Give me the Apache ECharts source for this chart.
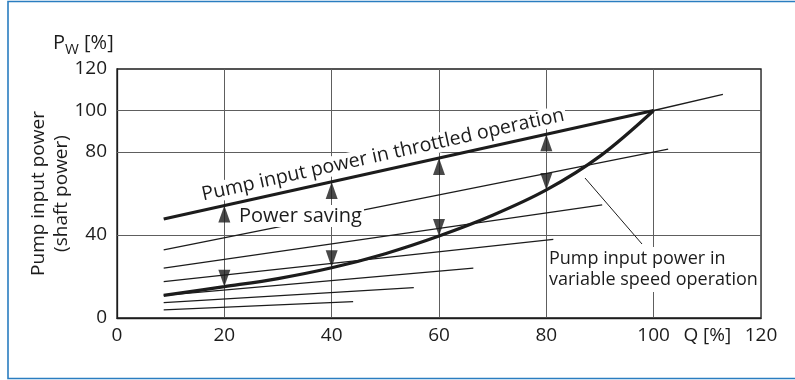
<!DOCTYPE html>
<html><head><meta charset="utf-8">
<script src="https://cdn.jsdelivr.net/npm/echarts@6/dist/echarts.min.js"></script>
<style>html,body{margin:0;padding:0;background:#fff}#c{width:795px;height:380px}</style>
</head><body><div id="c"></div>
<script>
// ---- data ----
const flowTicks = [0, 20, 40, 60, 80, 100, 110, 120];
const powerTicks = [0, 40, 80, 100, 120];
const powerGrid = [40, 80, 100];
const startQ = 8.7;
const throttledQ = [8.7, 100];
const throttledP = [47.7, 100];
const throttledExtQ = [100, 112.9];
const throttledExtP = [100, 107.8];
const variableQ = [8.7, 20, 30, 40, 50, 60, 70, 80, 90, 100];
const variableP = [10.9, 15.1, 19.0, 24.2, 31.0, 39.5, 49.5, 61.7, 78.0, 100];
const curveStartP = [32.8, 24.0, 17.5, 10.9, 7.4, 3.9];
const curveEndQ = [102.7, 90.4, 81.3, 66.4, 55.3, 44.0];
const curveEndP = [81.4, 54.5, 37.9, 24.0, 14.6, 7.9];
const arrowQ = [20, 40, 60, 80];
const arrowTopP = [54.2, 65.6, 77.1, 88.5];
const arrowBottomP = [15.1, 24.5, 39.5, 61.7];

const FONT = '"Open Sans", "Noto Sans", sans-serif';
const FS = 19;
const INK = '#1c1c1c';

const zip = (a, b) => a.map((v, i) => [v, b[i]]);

const series = [];
series.push({
  type: 'line', data: [], silent: true,
  markLine: {
    z: 1, silent: true, symbol: 'none', label: { show: false },
    lineStyle: { color: '#5e5e5e', width: 1, type: 'solid' },
    data: powerGrid.map(v => ({ yAxis: v }))
  }
});
curveStartP.forEach((p, i) => {
  series.push({
    type: 'line', z: 2, symbol: 'none', silent: true,
    lineStyle: { color: INK, width: 1.3 },
    data: [[startQ, p], [curveEndQ[i], curveEndP[i]]]
  });
});
series.push({
  type: 'line', z: 2, symbol: 'none', silent: true,
  lineStyle: { color: INK, width: 1.3 },
  data: zip(throttledExtQ, throttledExtP)
});
series.push({
  type: 'line', z: 3, symbol: 'none', silent: true,
  lineStyle: { color: INK, width: 3.2 },
  data: zip(throttledQ, throttledP)
});
series.push({
  type: 'line', z: 3, symbol: 'none', silent: true, smooth: 0.35,
  lineStyle: { color: INK, width: 3.2 },
  data: zip(variableQ, variableP)
});
series.push({
  type: 'scatter', z: 4, silent: true, symbol: 'triangle',
  symbolSize: [12, 17], symbolOffset: [0, '50%'],
  itemStyle: { color: INK },
  data: zip(arrowQ, arrowTopP)
});
series.push({
  type: 'scatter', z: 4, silent: true, symbol: 'triangle',
  symbolSize: [12, 17], symbolOffset: [0, '-50%'], symbolRotate: 180,
  itemStyle: { color: INK },
  data: zip(arrowQ, arrowBottomP)
});

const chart = echarts.init(document.getElementById('c'), null, { renderer: 'canvas' });
chart.setOption({
  animation: false,
  backgroundColor: '#fff',
  grid: { left: 117, top: 69, right: 34, bottom: 62, show: true, borderColor: INK, borderWidth: 1.3 },
  xAxis: {
    type: 'value', min: 0, max: 120, interval: 20,
    axisLine: { show: true, lineStyle: { color: INK, width: 1.3 } },
    axisTick: { show: false },
    splitLine: { show: true, lineStyle: { color: '#5e5e5e', width: 1 } },
    axisLabel: {
      customValues: flowTicks, margin: 8, color: INK, fontSize: FS, fontFamily: FONT,
      formatter: v => (v === 110 ? 'Q [%]' : String(v))
    }
  },
  yAxis: {
    type: 'value', min: 0, max: 120, interval: 20,
    name: 'Pump input power\n(shaft power)', nameLocation: 'middle', nameGap: 44,
    nameMoveOverlap: false,
    nameTextStyle: { color: INK, fontSize: FS, fontFamily: FONT, lineHeight: 23 },
    axisLine: { show: true, lineStyle: { color: INK, width: 1.3 } },
    axisTick: { show: false },
    splitLine: { show: false },
    axisLabel: { customValues: powerTicks, margin: 10, color: INK, fontSize: FS, fontFamily: FONT }
  },
  series: series,
  graphic: [
    { type: 'rect', z: 200, silent: true, shape: { x: 8, y: 1.5, width: 800, height: 377 },
      style: { fill: null, stroke: '#2a7dc0', lineWidth: 1.6 } },
    { type: 'text', z: 100, silent: true, x: 53, y: 43,
      style: { text: '{p|P}{w|W}{p| [%]}', align: 'left', verticalAlign: 'middle', fill: INK,
        rich: { p: { fontSize: 20, fontFamily: FONT, lineHeight: 28, verticalAlign: 'middle', fill: INK },
                w: { fontSize: 15, fontFamily: FONT, lineHeight: 28, verticalAlign: 'bottom', fill: INK } } } },
    { type: 'text', z: 100, silent: true, x: 383, y: 155, rotation: 12.5 * Math.PI / 180,
      style: { text: 'Pump input power in throttled operation', font: '19.5px ' + FONT, fill: INK,
        align: 'center', verticalAlign: 'middle', backgroundColor: '#fff', padding: [0, 2, 0, 2] } },
    { type: 'text', z: 100, silent: true, x: 237, y: 216,
      style: { text: 'Power saving', font: '20px ' + FONT, fill: INK,
        align: 'left', verticalAlign: 'middle', backgroundColor: '#fff', padding: [1, 2, 1, 2] } },
    { type: 'line', z: 100, silent: true, shape: { x1: 585, y1: 178, x2: 642, y2: 244 },
      style: { stroke: INK, lineWidth: 1 } },
    { type: 'text', z: 100, silent: true, x: 547, y: 247,
      style: { text: 'Pump input power in\nvariable speed operation', font: '18px ' + FONT, fill: INK,
        lineHeight: 21, align: 'left', verticalAlign: 'top', backgroundColor: '#fff', padding: [1, 2, 2, 2] } }
  ]
});
</script></body></html>
